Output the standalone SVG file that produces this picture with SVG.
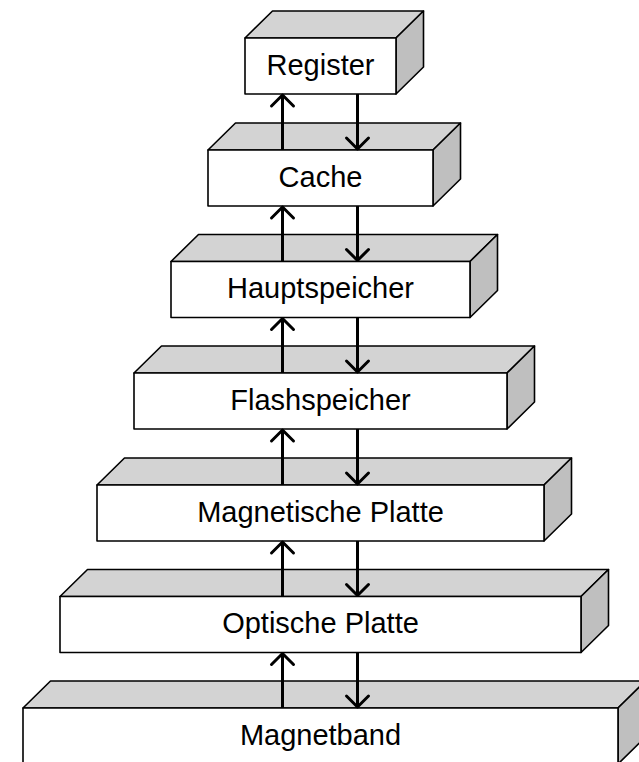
<svg xmlns="http://www.w3.org/2000/svg" width="639" height="762" viewBox="0 0 639 762">
<style>
.front{fill:#ffffff;stroke:#000;stroke-width:1.6;stroke-linejoin:round}
.top{fill:#d3d3d3;stroke:#000;stroke-width:1.6;stroke-linejoin:round}
.side{fill:#bfbfbf;stroke:#000;stroke-width:1.6;stroke-linejoin:round}
.lbl{font-family:"Liberation Sans",Arial,sans-serif;font-size:29px;fill:#000;text-anchor:middle}
.arr{stroke:#000;stroke-width:3;fill:none;marker-end:url(#ah)}
</style>
<defs>
<marker id="ah" viewBox="-14 -14 28 28" markerWidth="28" markerHeight="28" refX="0" refY="0" orient="auto" markerUnits="userSpaceOnUse">
<path d="M-11,-11 Q-3,-3 0,0 Q-3,3 -11,11" fill="none" stroke="#000" stroke-width="3" stroke-linecap="round" stroke-linejoin="round"/>
</marker>
</defs>
<rect width="639" height="762" fill="#fff"/>
<g id="register">
<polygon class="top" points="245,38 272.5,11 423.5,11 396,38"/>
<polygon class="side" points="396,38 423.5,11 423.5,67 396,94"/>
<rect class="front" x="245" y="38" width="151" height="56"/>
<text class="lbl" x="320.5" y="74.5">Register</text>
</g>
<g id="cache">
<polygon class="top" points="208,150 235.5,123 460.5,123 433,150"/>
<polygon class="side" points="433,150 460.5,123 460.5,179 433,206"/>
<rect class="front" x="208" y="150" width="225" height="56"/>
<text class="lbl" x="320.5" y="186.5">Cache</text>
</g>
<g id="hauptspeicher">
<polygon class="top" points="171,261.5 198.5,234.5 497.5,234.5 470,261.5"/>
<polygon class="side" points="470,261.5 497.5,234.5 497.5,290.5 470,317.5"/>
<rect class="front" x="171" y="261.5" width="299" height="56"/>
<text class="lbl" x="320.5" y="298">Hauptspeicher</text>
</g>
<g id="flashspeicher">
<polygon class="top" points="134,373 161.5,346 534.5,346 507,373"/>
<polygon class="side" points="507,373 534.5,346 534.5,402 507,429"/>
<rect class="front" x="134" y="373" width="373" height="56"/>
<text class="lbl" x="320.5" y="409.5">Flashspeicher</text>
</g>
<g id="magnetische-platte">
<polygon class="top" points="97,485 124.5,458 571.5,458 544,485"/>
<polygon class="side" points="544,485 571.5,458 571.5,514 544,541"/>
<rect class="front" x="97" y="485" width="447" height="56"/>
<text class="lbl" x="320.5" y="521.5">Magnetische Platte</text>
</g>
<g id="optische-platte">
<polygon class="top" points="60,596.5 87.5,569.5 608.5,569.5 581,596.5"/>
<polygon class="side" points="581,596.5 608.5,569.5 608.5,625.5 581,652.5"/>
<rect class="front" x="60" y="596.5" width="521" height="56"/>
<text class="lbl" x="320.5" y="633">Optische Platte</text>
</g>
<g id="magnetband">
<polygon class="top" points="23,708 50.5,681 645.5,681 618,708"/>
<polygon class="side" points="618,708 645.5,681 645.5,737 618,764"/>
<rect class="front" x="23" y="708" width="595" height="56"/>
<text class="lbl" x="320.5" y="744.5">Magnetband</text>
</g>
<g id="connectors">
<line class="arr" x1="282.5" y1="150" x2="282.5" y2="95"/>
<line class="arr" x1="357.5" y1="94" x2="357.5" y2="149"/>
<line class="arr" x1="282.5" y1="261.5" x2="282.5" y2="207"/>
<line class="arr" x1="357.5" y1="206" x2="357.5" y2="260.5"/>
<line class="arr" x1="282.5" y1="373" x2="282.5" y2="318.5"/>
<line class="arr" x1="357.5" y1="317.5" x2="357.5" y2="372"/>
<line class="arr" x1="282.5" y1="485" x2="282.5" y2="430"/>
<line class="arr" x1="357.5" y1="429" x2="357.5" y2="484"/>
<line class="arr" x1="282.5" y1="596.5" x2="282.5" y2="542"/>
<line class="arr" x1="357.5" y1="541" x2="357.5" y2="595.5"/>
<line class="arr" x1="282.5" y1="708" x2="282.5" y2="653.5"/>
<line class="arr" x1="357.5" y1="652.5" x2="357.5" y2="707"/>
</g>
</svg>
